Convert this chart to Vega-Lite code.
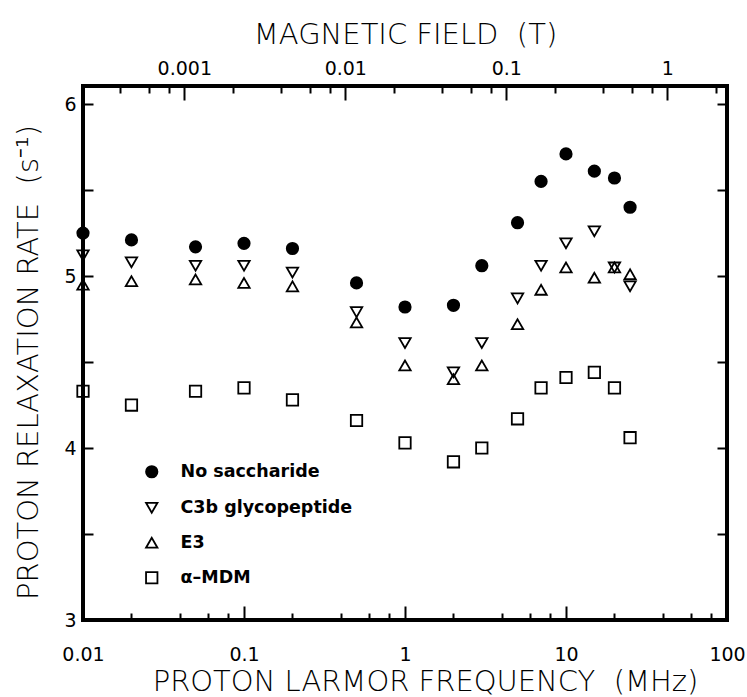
{
  "$schema": "https://vega.github.io/schema/vega-lite/v6.json",
  "width": 644,
  "height": 534,
  "autosize": {"type": "none"},
  "padding": {"left": 83, "top": 86, "right": 20, "bottom": 77},
  "background": "white",
  "config": {
    "view": {"stroke": "black", "strokeWidth": 4},
    "font": "DejaVu Sans",
    "axis": {"grid": false, "labelColor": "black", "titleColor": "black", "labelFont": "DejaVu Sans", "titleFont": "DejaVu Sans", "titleFontWeight": 200}
  },
  "data": {
    "values": [
      {"f": 0.01, "v": 5.25, "s": "No saccharide"},
      {"f": 0.02, "v": 5.21, "s": "No saccharide"},
      {"f": 0.05, "v": 5.17, "s": "No saccharide"},
      {"f": 0.1, "v": 5.19, "s": "No saccharide"},
      {"f": 0.2, "v": 5.16, "s": "No saccharide"},
      {"f": 0.5, "v": 4.96, "s": "No saccharide"},
      {"f": 1, "v": 4.82, "s": "No saccharide"},
      {"f": 2, "v": 4.83, "s": "No saccharide"},
      {"f": 3, "v": 5.06, "s": "No saccharide"},
      {"f": 5, "v": 5.31, "s": "No saccharide"},
      {"f": 7, "v": 5.55, "s": "No saccharide"},
      {"f": 10, "v": 5.71, "s": "No saccharide"},
      {"f": 15, "v": 5.61, "s": "No saccharide"},
      {"f": 20, "v": 5.57, "s": "No saccharide"},
      {"f": 25, "v": 5.40, "s": "No saccharide"},
      {"f": 0.01, "v": 5.12, "s": "C3b glycopeptide"},
      {"f": 0.02, "v": 5.08, "s": "C3b glycopeptide"},
      {"f": 0.05, "v": 5.06, "s": "C3b glycopeptide"},
      {"f": 0.1, "v": 5.06, "s": "C3b glycopeptide"},
      {"f": 0.2, "v": 5.02, "s": "C3b glycopeptide"},
      {"f": 0.5, "v": 4.79, "s": "C3b glycopeptide"},
      {"f": 1, "v": 4.61, "s": "C3b glycopeptide"},
      {"f": 2, "v": 4.44, "s": "C3b glycopeptide"},
      {"f": 3, "v": 4.61, "s": "C3b glycopeptide"},
      {"f": 5, "v": 4.87, "s": "C3b glycopeptide"},
      {"f": 7, "v": 5.06, "s": "C3b glycopeptide"},
      {"f": 10, "v": 5.19, "s": "C3b glycopeptide"},
      {"f": 15, "v": 5.26, "s": "C3b glycopeptide"},
      {"f": 20, "v": 5.05, "s": "C3b glycopeptide"},
      {"f": 25, "v": 4.94, "s": "C3b glycopeptide"},
      {"f": 0.01, "v": 4.95, "s": "E3"},
      {"f": 0.02, "v": 4.97, "s": "E3"},
      {"f": 0.05, "v": 4.98, "s": "E3"},
      {"f": 0.1, "v": 4.96, "s": "E3"},
      {"f": 0.2, "v": 4.94, "s": "E3"},
      {"f": 0.5, "v": 4.73, "s": "E3"},
      {"f": 1, "v": 4.48, "s": "E3"},
      {"f": 2, "v": 4.40, "s": "E3"},
      {"f": 3, "v": 4.48, "s": "E3"},
      {"f": 5, "v": 4.72, "s": "E3"},
      {"f": 7, "v": 4.92, "s": "E3"},
      {"f": 10, "v": 5.05, "s": "E3"},
      {"f": 15, "v": 4.99, "s": "E3"},
      {"f": 20, "v": 5.05, "s": "E3"},
      {"f": 25, "v": 5.01, "s": "E3"},
      {"f": 0.01, "v": 4.33, "s": "α–MDM"},
      {"f": 0.02, "v": 4.25, "s": "α–MDM"},
      {"f": 0.05, "v": 4.33, "s": "α–MDM"},
      {"f": 0.1, "v": 4.35, "s": "α–MDM"},
      {"f": 0.2, "v": 4.28, "s": "α–MDM"},
      {"f": 0.5, "v": 4.16, "s": "α–MDM"},
      {"f": 1, "v": 4.03, "s": "α–MDM"},
      {"f": 2, "v": 3.92, "s": "α–MDM"},
      {"f": 3, "v": 4.00, "s": "α–MDM"},
      {"f": 5, "v": 4.17, "s": "α–MDM"},
      {"f": 7, "v": 4.35, "s": "α–MDM"},
      {"f": 10, "v": 4.41, "s": "α–MDM"},
      {"f": 15, "v": 4.44, "s": "α–MDM"},
      {"f": 20, "v": 4.35, "s": "α–MDM"},
      {"f": 25, "v": 4.06, "s": "α–MDM"}
    ]
  },
  "layer": [
    {
      "mark": {"type": "point", "size": 130, "strokeWidth": 1.8, "opacity": 1, "clip": false},
      "encoding": {
        "x": {"field": "f", "type": "quantitative",
          "scale": {"type": "log", "domain": [0.01, 100], "nice": false},
          "axis": {"orient": "bottom", "offset": -14, "values": [0.01, 0.1, 1, 10, 100], "format": "~g",
            "tickSize": 14, "tickWidth": 2, "tickColor": "black", "domain": false, "labelFontSize": 19, "labelPadding": 25, "labelFlush": false, "labelOverlap": false,
            "title": "PROTON LARMOR FREQUENCY\u00a0\u00a0(MHz)", "titleFontSize": 29, "titlePadding": 3, "titleX": 342}},
        "y": {"field": "v", "type": "quantitative",
          "scale": {"domain": [3, 6.105], "nice": false, "zero": false},
          "axis": {"orient": "left", "offset": -10, "values": [3, 3.5, 4, 4.5, 5, 5.5, 6],
            "labelExpr": "datum.value % 1 == 0 ? format(datum.value, 'd') : ''",
            "tickSize": 10, "tickWidth": 2, "tickColor": "black", "domain": false, "labelFontSize": 19, "labelPadding": 7, "labelFlush": false, "labelOverlap": false,
            "title": "PROTON RELAXATION RATE\u00a0\u00a0(s⁻¹)", "titleFontSize": 29, "titlePadding": 20, "titleY": 276}},
        "shape": {"field": "s", "type": "nominal",
          "scale": {"domain": ["No saccharide", "C3b glycopeptide", "E3", "α–MDM"], "range": ["circle", "triangle-down", "triangle-up", "square"]},
          "legend": {"title": null, "orient": "none", "legendX": 60, "legendY": 377, "padding": 0, "labelFontSize": 17.5, "labelFontWeight": "bold", "labelColor": "black", "labelLimit": 400, "symbolSize": 130, "symbolStrokeWidth": 1.8, "rowPadding": 16, "labelOffset": 20}},
        "fill": {"field": "s", "type": "nominal",
          "scale": {"domain": ["No saccharide", "C3b glycopeptide", "E3", "α–MDM"], "range": ["black", "transparent", "transparent", "transparent"]},
          "legend": {"title": null, "orient": "none", "legendX": 60, "legendY": 377, "padding": 0, "labelFontSize": 17.5, "labelFontWeight": "bold", "labelColor": "black", "labelLimit": 400, "symbolSize": 130, "symbolStrokeWidth": 1.8, "rowPadding": 16, "labelOffset": 20}},
        "stroke": {"field": "s", "type": "nominal",
          "scale": {"domain": ["No saccharide", "C3b glycopeptide", "E3", "α–MDM"], "range": ["black", "black", "black", "black"]},
          "legend": {"title": null, "orient": "none", "legendX": 60, "legendY": 377, "padding": 0, "labelFontSize": 17.5, "labelFontWeight": "bold", "labelColor": "black", "labelLimit": 400, "symbolSize": 130, "symbolStrokeWidth": 1.8, "rowPadding": 16, "labelOffset": 20}}
      }
    },
    {
      "mark": {"type": "point", "opacity": 0},
      "encoding": {
        "x": {"field": "f", "type": "quantitative",
          "scale": {"type": "log", "domain": [0.01, 100], "nice": false},
          "axis": {"orient": "top", "offset": -14, "values": [0.04258, 0.4258, 4.258, 42.58],
            "labelExpr": "format(datum.value / 42.58, '.3~g')",
            "tickSize": 14, "tickWidth": 2, "tickColor": "black", "domain": false, "labelFontSize": 19, "labelPadding": 8, "labelFlush": false, "labelOverlap": false,
            "title": "MAGNETIC FIELD\u00a0\u00a0(T)", "titleFontSize": 29, "titlePadding": 10}},
        "y": {"field": "v", "type": "quantitative",
          "scale": {"domain": [3, 6.105], "nice": false, "zero": false},
          "axis": {"orient": "right", "offset": -10, "values": [3.5, 4, 4.5, 5, 5.5, 6], "labels": false, "domain": false, "tickSize": 10, "tickWidth": 2, "tickColor": "black", "title": null}}
      }
    },
    {
      "mark": {"type": "point", "opacity": 0},
      "encoding": {
        "x": {"field": "f", "type": "quantitative",
          "scale": {"type": "log", "domain": [0.01, 100], "nice": false},
          "axis": {"orient": "bottom", "offset": -7, "values": [0.02, 0.04, 0.06, 0.08, 0.2, 0.4, 0.6, 0.8, 2, 4, 6, 8, 20, 40, 60, 80], "labels": false, "domain": false, "tickSize": 7, "tickWidth": 2, "tickColor": "black", "title": null}},
        "y": {"field": "v", "type": "quantitative",
          "scale": {"domain": [3, 6.105], "nice": false, "zero": false}, "axis": null}
      }
    },
    {
      "mark": {"type": "point", "opacity": 0},
      "encoding": {
        "x": {"field": "f", "type": "quantitative",
          "scale": {"type": "log", "domain": [0.01, 100], "nice": false},
          "axis": {"orient": "top", "offset": -7, "values": [0.017032, 0.025548, 0.034064, 0.08516, 0.17032, 0.25548, 0.34064, 0.8516, 1.7032, 2.5548, 3.4064, 8.516, 17.032, 25.548, 34.064, 85.16], "labels": false, "domain": false, "tickSize": 7, "tickWidth": 2, "tickColor": "black", "title": null}},
        "y": {"field": "v", "type": "quantitative",
          "scale": {"domain": [3, 6.105], "nice": false, "zero": false}, "axis": null}
      }
    }
  ],
  "resolve": {"axis": {"x": "independent", "y": "independent"}}
}
